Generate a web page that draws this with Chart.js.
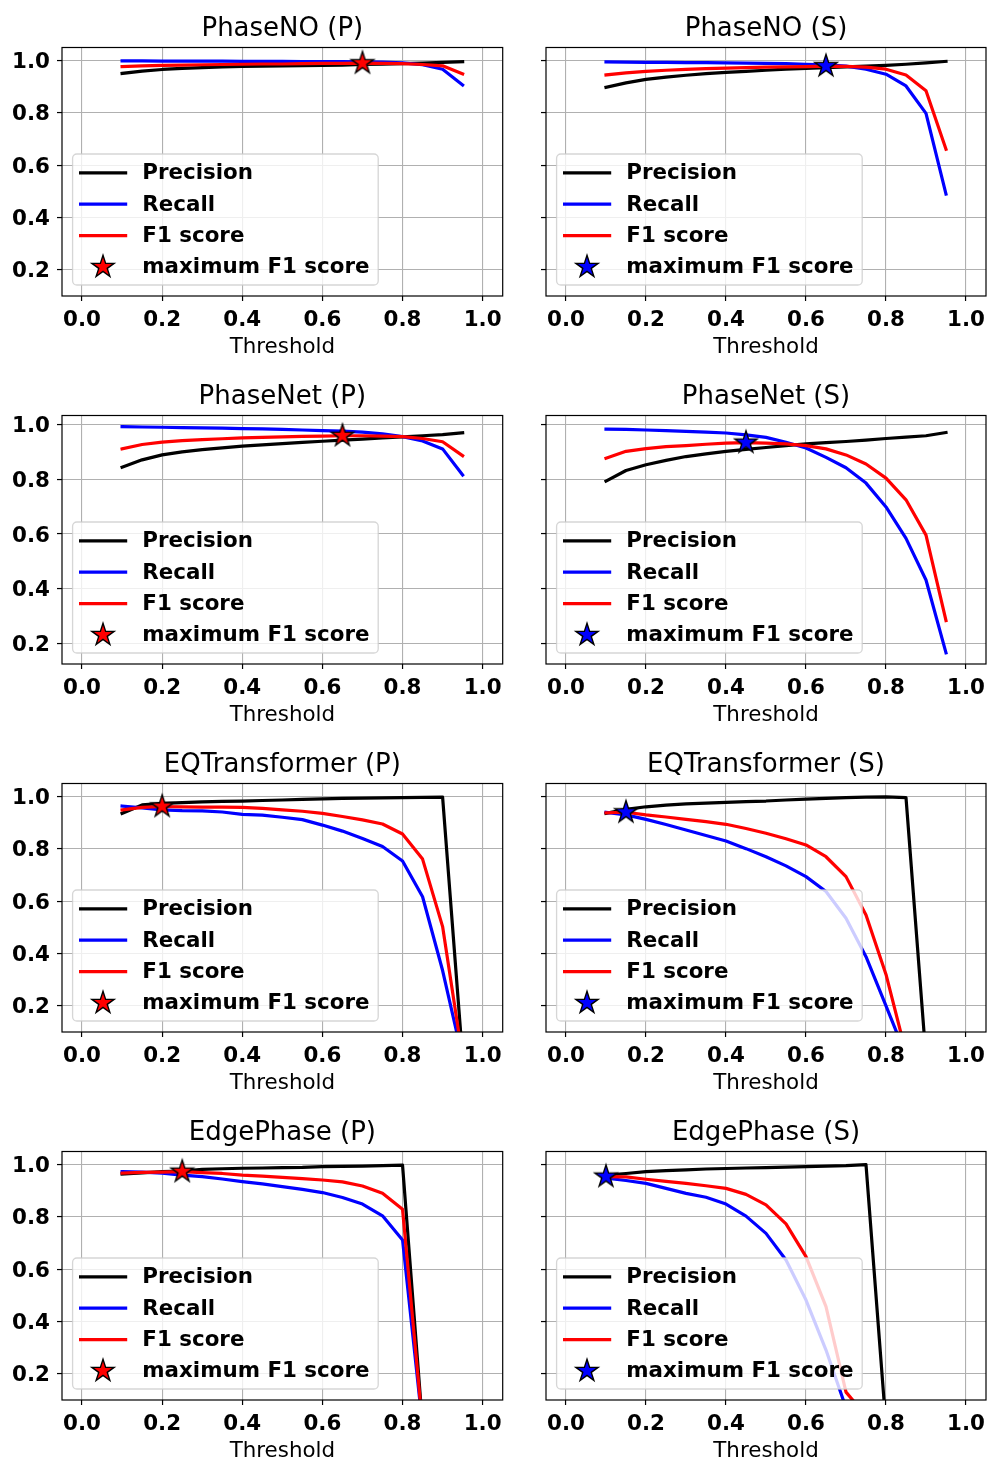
<!DOCTYPE html>
<html>
<head>
<meta charset="utf-8">
<title>Precision / Recall / F1 vs threshold</title>
<script src="https://cdn.jsdelivr.net/npm/chart.js@4"></script>
<style>
  html, body { margin: 0; padding: 0; background: #fff; overflow: hidden; }
  #figure { position: relative; width: 987px; height: 1460px; }
  #figure canvas { position: absolute; }
</style>
</head>
<body>
<div id="figure"></div>
<script>
// picking thresholds shared by every panel
const thresholds = [0.1, 0.15, 0.2, 0.25, 0.3, 0.35, 0.4, 0.45, 0.5, 0.55, 0.6, 0.65, 0.7, 0.75, 0.8, 0.85, 0.9, 0.95];

const xTicks = [0, 0.2, 0.4, 0.6, 0.8, 1.0];
const xTickLabels = ['0.0', '0.2', '0.4', '0.6', '0.8', '1.0'];
const yTicks = [0.2, 0.4, 0.6, 0.8, 1.0];
const yTickLabels = ['0.2', '0.4', '0.6', '0.8', '1.0'];

const titles = ['PhaseNO (P)', 'PhaseNO (S)', 'PhaseNet (P)', 'PhaseNet (S)',
                'EQTransformer (P)', 'EQTransformer (S)', 'EdgePhase (P)', 'EdgePhase (S)'];

// y limits per row of panels (shared between P and S)
const rowYMin = [0.1, 0.125, 0.1, 0.1];
const rowYMax = [1.05, 1.033, 1.05, 1.05];

// threshold with the highest F1 in each panel
const bestThreshold = [0.7, 0.65, 0.65, 0.45, 0.2, 0.15, 0.25, 0.1];

const precisionPhaseNoP = [0.951, 0.960, 0.966, 0.970, 0.973, 0.976, 0.978, 0.979, 0.980, 0.981, 0.982, 0.983, 0.985, 0.986, 0.988, 0.990, 0.993, 0.996];
const recallPhaseNoP    = [0.999, 0.999, 0.998, 0.998, 0.998, 0.998, 0.997, 0.997, 0.997, 0.996, 0.996, 0.996, 0.995, 0.994, 0.991, 0.984, 0.967, 0.907];
const f1PhaseNoP        = [0.977, 0.980, 0.982, 0.983, 0.984, 0.985, 0.986, 0.987, 0.987, 0.988, 0.989, 0.989, 0.990, 0.989, 0.988, 0.985, 0.980, 0.949];

const precisionPhaseNoS = [0.898, 0.915, 0.928, 0.937, 0.944, 0.950, 0.955, 0.959, 0.963, 0.967, 0.970, 0.973, 0.976, 0.979, 0.982, 0.986, 0.991, 0.997];
const recallPhaseNoS    = [0.995, 0.994, 0.993, 0.993, 0.992, 0.992, 0.991, 0.990, 0.989, 0.988, 0.986, 0.984, 0.979, 0.967, 0.948, 0.903, 0.798, 0.490];
const f1PhaseNoS        = [0.945, 0.953, 0.959, 0.963, 0.966, 0.969, 0.971, 0.973, 0.975, 0.976, 0.977, 0.979, 0.978, 0.975, 0.967, 0.945, 0.885, 0.661];

const precisionPhaseNetP = [0.844, 0.871, 0.889, 0.900, 0.908, 0.915, 0.921, 0.926, 0.930, 0.935, 0.939, 0.943, 0.947, 0.951, 0.955, 0.959, 0.963, 0.970];
const recallPhaseNetP    = [0.992, 0.991, 0.990, 0.989, 0.988, 0.987, 0.985, 0.984, 0.982, 0.980, 0.978, 0.976, 0.972, 0.966, 0.956, 0.940, 0.911, 0.816];
const f1PhaseNetP        = [0.911, 0.927, 0.936, 0.941, 0.945, 0.948, 0.951, 0.953, 0.955, 0.957, 0.958, 0.959, 0.959, 0.958, 0.956, 0.949, 0.937, 0.886];

const precisionPhaseNetS = [0.793, 0.832, 0.853, 0.869, 0.883, 0.893, 0.902, 0.909, 0.916, 0.923, 0.929, 0.934, 0.938, 0.943, 0.949, 0.954, 0.959, 0.971];
const recallPhaseNetS    = [0.983, 0.982, 0.980, 0.978, 0.975, 0.972, 0.969, 0.962, 0.953, 0.935, 0.914, 0.880, 0.842, 0.786, 0.699, 0.584, 0.432, 0.166];
const f1PhaseNetS        = [0.877, 0.902, 0.912, 0.919, 0.923, 0.928, 0.932, 0.934, 0.932, 0.929, 0.923, 0.911, 0.889, 0.856, 0.804, 0.725, 0.596, 0.284];

const precisionEqtP = [0.936, 0.968, 0.974, 0.977, 0.980, 0.982, 0.983, 0.985, 0.987, 0.989, 0.991, 0.993, 0.994, 0.995, 0.996, 0.997, 0.998, 0.0];
const recallEqtP    = [0.964, 0.957, 0.949, 0.946, 0.945, 0.941, 0.932, 0.929, 0.921, 0.912, 0.891, 0.868, 0.840, 0.809, 0.754, 0.617, 0.335, 0.0];
const f1EqtP        = [0.949, 0.959, 0.962, 0.961, 0.960, 0.960, 0.959, 0.955, 0.949, 0.944, 0.936, 0.924, 0.911, 0.895, 0.857, 0.761, 0.503, 0.0];

const precisionEqtS = [0.936, 0.951, 0.961, 0.967, 0.972, 0.975, 0.978, 0.981, 0.983, 0.987, 0.990, 0.993, 0.996, 0.998, 0.999, 0.996, 0.0, 0.0];
const recallEqtS    = [0.940, 0.930, 0.913, 0.893, 0.872, 0.851, 0.830, 0.801, 0.770, 0.735, 0.694, 0.637, 0.535, 0.388, 0.200, 0.010, 0.0, 0.0];
const f1EqtS        = [0.938, 0.940, 0.930, 0.922, 0.913, 0.904, 0.894, 0.878, 0.860, 0.839, 0.815, 0.770, 0.694, 0.547, 0.320, 0.020, 0.0, 0.0];

const precisionEdgeP = [0.964, 0.968, 0.973, 0.975, 0.982, 0.984, 0.986, 0.987, 0.988, 0.989, 0.992, 0.993, 0.994, 0.996, 0.998, 0.0, 0.0, 0.0];
const recallEdgeP    = [0.973, 0.971, 0.967, 0.960, 0.954, 0.945, 0.935, 0.926, 0.916, 0.905, 0.893, 0.874, 0.849, 0.804, 0.712, 0.0, 0.0, 0.0];
const f1EdgeP        = [0.967, 0.970, 0.971, 0.973, 0.969, 0.966, 0.960, 0.956, 0.951, 0.946, 0.941, 0.934, 0.918, 0.890, 0.829, 0.0, 0.0, 0.0];

const precisionEdgeS = [0.960, 0.966, 0.973, 0.977, 0.980, 0.983, 0.985, 0.987, 0.988, 0.990, 0.992, 0.994, 0.996, 1.000, 0.0, 0.0, 0.0, 0.0];
const recallEdgeS    = [0.948, 0.939, 0.928, 0.909, 0.890, 0.875, 0.849, 0.803, 0.737, 0.635, 0.482, 0.291, 0.070, 0.020, 0.0, 0.0, 0.0, 0.0];
const f1EdgeS        = [0.954, 0.953, 0.944, 0.936, 0.928, 0.919, 0.909, 0.886, 0.846, 0.773, 0.648, 0.457, 0.130, 0.040, 0.0, 0.0, 0.0, 0.0];

const precisionSets = [precisionPhaseNoP, precisionPhaseNoS, precisionPhaseNetP, precisionPhaseNetS,
                       precisionEqtP, precisionEqtS, precisionEdgeP, precisionEdgeS];
const recallSets = [recallPhaseNoP, recallPhaseNoS, recallPhaseNetP, recallPhaseNetS,
                    recallEqtP, recallEqtS, recallEdgeP, recallEdgeS];
const f1Sets = [f1PhaseNoP, f1PhaseNoS, f1PhaseNetP, f1PhaseNetS, f1EqtP, f1EqtS, f1EdgeP, f1EdgeS];

Chart.defaults.font.family = '"DejaVu Sans", sans-serif';
Chart.defaults.color = '#000';

const TICK_FONT = { size: 21.4, weight: 'bold' };
const LEGEND_FONT = 'bold 21.4px "DejaVu Sans"';

function makeStar(fill) {
    const size = 30;
    const c = document.createElement('canvas');
    c.width = c.height = size;
    const g = c.getContext('2d');
    const R = 11.7, r = R * 0.381966;
    g.beginPath();
    for (let i = 0; i < 10; i++) {
        const rad = i % 2 ? r : R;
        const a = -Math.PI / 2 + i * Math.PI / 5;
        g.lineTo(size / 2 + rad * Math.cos(a), size / 2 + rad * Math.sin(a));
    }
    g.closePath();
    g.fillStyle = fill;
    g.fill();
    g.lineWidth = 1.4;
    g.strokeStyle = '#000';
    g.lineJoin = 'miter';
    g.stroke();
    return c;
}

const redStar = makeStar('#ff0000');
const blueStar = makeStar('#0000ff');

// axes frame + legend box inside the plot area (lower left)
const insetLegend = {
    id: 'insetLegend',
    afterDatasetsDraw(chart) {
        const { ctx, chartArea: a } = chart;
        ctx.save();
        ctx.lineWidth = 1.2;
        ctx.strokeStyle = '#000';
        ctx.strokeRect(a.left, a.top, a.right - a.left, a.bottom - a.top);

        ctx.font = LEGEND_FONT;
        const entries = chart.data.datasets;
        const textLeft = 69.7;
        const w = textLeft + Math.max(...entries.map(d => ctx.measureText(d.label).width)) + 8.7;
        const h = 131;
        const x0 = a.left + 10.6;
        const y0 = a.bottom - 11 - h;

        ctx.beginPath();
        ctx.roundRect(x0, y0, w, h, 4.3);
        ctx.fillStyle = 'rgba(255,255,255,0.8)';
        ctx.fill();
        ctx.lineWidth = 1.3;
        ctx.strokeStyle = 'rgba(204,204,204,0.8)';
        ctx.stroke();

        ctx.textBaseline = 'middle';
        ctx.textAlign = 'left';
        entries.forEach((d, i) => {
            const y = y0 + 18.8 + i * 31.4;
            if (d.showLine === false) {
                const img = d.pointStyle;
                ctx.drawImage(img, x0 + 30.4 - img.width / 2, y - img.height / 2);
            } else {
                ctx.beginPath();
                ctx.moveTo(x0 + 8, y);
                ctx.lineTo(x0 + 53, y);
                ctx.lineWidth = 3.2;
                ctx.lineCap = 'square';
                ctx.strokeStyle = d.borderColor;
                ctx.stroke();
            }
            ctx.fillStyle = '#000';
            ctx.fillText(d.label, x0 + textLeft, y + 0.8);
        });
        ctx.restore();
    }
};

function series(values) {
    return thresholds.map((t, i) => ({ x: t, y: values[i] }));
}

function lineSet(label, values, color, order) {
    return {
        label: label,
        data: series(values),
        borderColor: color,
        backgroundColor: color,
        borderWidth: 3.2,
        borderJoinStyle: 'round',
        borderCapStyle: 'square',
        pointRadius: 0,
        tension: 0,
        fill: false,
        order: order
    };
}

const figure = document.getElementById('figure');

titles.forEach((title, k) => {
    const row = Math.floor(k / 2);
    const col = k % 2;
    const canvas = document.createElement('canvas');
    const width = col === 0 ? 520 : 503;
    const height = 368;
    canvas.width = width;
    canvas.height = height;
    canvas.style.left = (col === 0 ? 0 : 484) + 'px';
    canvas.style.top = (row * 368) + 'px';
    canvas.style.width = width + 'px';
    canvas.style.height = height + 'px';
    figure.appendChild(canvas);

    const f1 = f1Sets[k];
    const best = bestThreshold[k];
    const bestF1 = f1[thresholds.indexOf(best)];
    const star = col === 0 ? redStar : blueStar;

    new Chart(canvas, {
        type: 'line',
        data: {
            datasets: [
                lineSet('Precision', precisionSets[k], '#000000', 3),
                lineSet('Recall', recallSets[k], '#0000ff', 2),
                lineSet('F1 score', f1, '#ff0000', 1),
                {
                    label: 'maximum F1 score',
                    data: [{ x: best, y: bestF1 }],
                    showLine: false,
                    pointStyle: star,
                    pointRadius: 12,
                    borderColor: '#000',
                    backgroundColor: col === 0 ? '#ff0000' : '#0000ff',
                    order: 0,
                    clip: false
                }
            ]
        },
        options: {
            responsive: false,
            animation: false,
            devicePixelRatio: 1,
            events: [],
            layout: {
                autoPadding: false,
                padding: { left: 0, top: 0, bottom: 0, right: col === 0 ? 17.3 : 1 }
            },
            plugins: {
                legend: { display: false },
                tooltip: { enabled: false },
                title: {
                    display: true,
                    fullSize: false,
                    text: title,
                    color: '#000',
                    font: { size: 26, weight: 'normal' },
                    padding: { top: 13.6, bottom: 2.7 }
                }
            },
            scales: {
                x: {
                    type: 'linear',
                    min: -0.05,
                    max: 1.05,
                    afterBuildTicks: axis => { axis.ticks = xTicks.map(v => ({ value: v })); },
                    afterFit: axis => { axis.height = 72; axis.paddingLeft = 0; axis.paddingRight = 0; },
                    ticks: {
                        font: TICK_FONT,
                        padding: 7,
                        autoSkip: false,
                        maxRotation: 0,
                        callback: (v, i) => xTickLabels[i]
                    },
                    grid: { color: '#b0b0b0', lineWidth: 1.1, tickColor: '#000', tickLength: 5, tickWidth: 1.2 },
                    border: { display: false },
                    title: {
                        display: true,
                        text: 'Threshold',
                        font: { size: 21.4, weight: 'normal' },
                        padding: { top: 0, bottom: 7.4 }
                    }
                },
                y: {
                    type: 'linear',
                    min: rowYMin[row],
                    max: rowYMax[row],
                    afterBuildTicks: axis => { axis.ticks = yTicks.map(v => ({ value: v })); },
                    afterFit: axis => { axis.width = 62; axis.paddingTop = 0; axis.paddingBottom = 0; },
                    ticks: {
                        // the S column shares the row's y axis, so only tick marks there
                        display: col === 0,
                        font: TICK_FONT,
                        padding: 7,
                        labelOffset: 2,
                        autoSkip: false,
                        callback: (v, i) => yTickLabels[i]
                    },
                    grid: { color: '#b0b0b0', lineWidth: 1.1, tickColor: '#000', tickLength: 5, tickWidth: 1.2 },
                    border: { display: false }
                }
            }
        },
        plugins: [insetLegend]
    });
});
</script>
</body>
</html>
